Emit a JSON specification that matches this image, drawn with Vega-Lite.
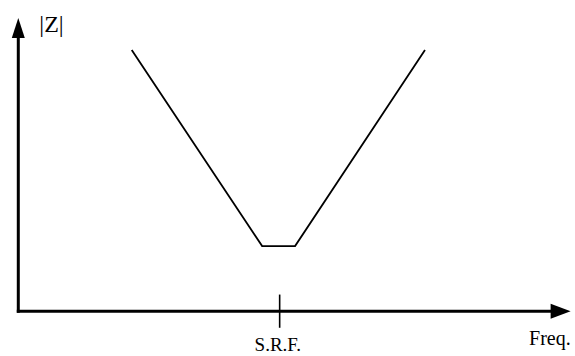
{
  "$schema": "https://vega.github.io/schema/vega-lite/v6.json",
  "width": 575,
  "height": 356,
  "autosize": {"type": "fit", "contains": "padding"},
  "padding": 0,
  "background": "white",
  "config": {"view": {"stroke": null}, "axis": {"disable": true}},
  "datasets": {
    "axes": [
      {"name": "freq", "x": 0, "y": 0, "x2": 20.54, "y2": 0},
      {"name": "z", "x": 0, "y": 0, "x2": 0, "y2": 10.66}
    ],
    "arrows": [
      {"name": "z", "x": 0, "y": 10.74},
      {"name": "freq", "x": 20.75, "y": 0}
    ],
    "tick": [{"x": 10, "y": -0.63, "y2": 0.63}],
    "curve": [
      {"i": 0, "x": 4.34, "y": 9.9},
      {"i": 1, "x": 9.33, "y": 2.47},
      {"i": 2, "x": 10.59, "y": 2.47},
      {"i": 3, "x": 15.56, "y": 9.9}
    ],
    "labels": [
      {"label": "|Z|", "x": 1.27, "y": 10.6},
      {"label": "S.R.F.", "x": 9.93, "y": -1.51},
      {"label": "Freq.", "x": 20.34, "y": -1.3}
    ]
  },
  "encoding": {
    "x": {"field": "x", "type": "quantitative", "scale": {"domain": [-0.7, 21.3], "nice": false, "zero": false}},
    "y": {"field": "y", "type": "quantitative", "scale": {"domain": [-1.7, 11.8], "nice": false, "zero": false}}
  },
  "layer": [
    {
      "data": {"name": "axes"},
      "mark": {"type": "rule", "color": "black", "strokeWidth": 3, "strokeCap": "square"},
      "encoding": {"x2": {"field": "x2"}, "y2": {"field": "y2"}}
    },
    {
      "data": {"name": "arrows"},
      "transform": [{"filter": "datum.name === 'z'"}],
      "mark": {"type": "point", "shape": "M0,-1L0.65,1L-0.65,1Z", "size": 400, "filled": true, "color": "black", "opacity": 1}
    },
    {
      "data": {"name": "arrows"},
      "transform": [{"filter": "datum.name === 'freq'"}],
      "mark": {"type": "point", "shape": "M1,0L-1,-0.75L-1,0.75Z", "size": 400, "filled": true, "color": "black", "opacity": 1}
    },
    {
      "data": {"name": "tick"},
      "mark": {"type": "rule", "color": "black", "strokeWidth": 1.6},
      "encoding": {"y2": {"field": "y2"}}
    },
    {
      "data": {"name": "curve"},
      "mark": {"type": "line", "color": "black", "strokeWidth": 1.8},
      "encoding": {"order": {"field": "i", "type": "quantitative"}}
    },
    {
      "data": {"name": "labels"},
      "transform": [{"filter": "datum.label === '|Z|'"}],
      "mark": {"type": "text", "font": "Liberation Serif", "fontSize": 24, "align": "center", "baseline": "alphabetic", "color": "black"},
      "encoding": {"text": {"field": "label"}}
    },
    {
      "data": {"name": "labels"},
      "transform": [{"filter": "datum.label === 'S.R.F.'"}],
      "mark": {"type": "text", "font": "Liberation Serif", "fontSize": 19, "align": "center", "baseline": "alphabetic", "color": "black"},
      "encoding": {"text": {"field": "label"}}
    },
    {
      "data": {"name": "labels"},
      "transform": [{"filter": "datum.label === 'Freq.'"}],
      "mark": {"type": "text", "font": "Liberation Serif", "fontSize": 20, "align": "center", "baseline": "alphabetic", "color": "black"},
      "encoding": {"text": {"field": "label"}}
    }
  ]
}
